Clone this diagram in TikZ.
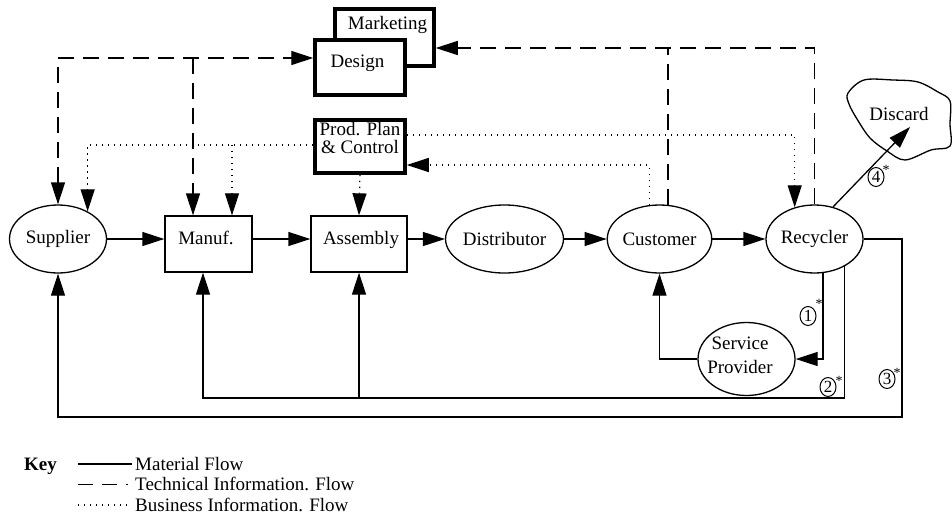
\documentclass[tikz,border=0pt]{standalone}
\usepackage{fontspec}
\setmainfont{Liberation Serif}
\usetikzlibrary{arrows.meta,shapes.geometric}

\begin{document}
\begin{tikzpicture}[x=1pt,y=-1pt,
  font=\fontsize{19}{19}\selectfont,
  >={Triangle[length=22pt,width=14pt]},
  flow/.style={line width=1.3pt},
  mat/.style={flow},
  tech/.style={flow, dash pattern=on 16pt off 9pt},
  biz/.style={line width=1.2pt, dash pattern=on 1.3pt off 4.7pt},
  ell/.style={ellipse, draw, line width=1.3pt, minimum width=97pt,
    minimum height=68pt, inner sep=0pt},
  box/.style={rectangle, draw, line width=1.3pt, minimum height=56pt, inner sep=0pt},
  heavybox/.style={rectangle, draw, line width=3.5pt, inner sep=0pt, fill=white},
  txt/.style={inner sep=0pt, anchor=base},
  num/.style={ellipse, draw, line width=1pt, minimum width=16pt, minimum height=19pt,
    inner sep=0pt, font=\fontsize{17}{17}\selectfont},
  star/.style={inner sep=0pt, font=\fontsize{14}{14}\selectfont},
]
\useasboundingbox (0,0) rectangle (952,522);

% ---- departments ----
\node[heavybox, minimum width=99pt, minimum height=57pt] (mkt) at (384.5,37.5) {};
\node[txt] (mktT) at (387.5,29) {Marketing};
\node[heavybox, minimum width=90pt, minimum height=55pt] (des) at (360,67.5) {};
\node[txt] (desT) at (357.5,67) {Design};
\node[heavybox, minimum width=90pt, minimum height=53pt] (ppc) at (360,146.5) {};
\node[txt] (ppcA) at (360,135) {Prod. Plan};
\node[txt] (ppcB) at (360,153) {\& Control};

% ---- supply chain row ----
\node[ell] (sup) at (58,239) {Supplier};
\node[box, minimum width=87pt] (man) at (208.5,244) {};
\node[txt] (manT) at (206,244) {Manuf.};
\node[box, minimum width=96pt] (ass) at (359,244) {};
\node[txt] (assT) at (361,244) {Assembly};
\node[ell] (dis) at (504.5,239) {Distributor};
\node[ell] (cus) at (659.5,239) {Customer};
\node[ell] (rec) at (814.5,239) {Recycler};
\node[ell, minimum height=73pt] (sp) at (746.5,359) {};
\node[txt] (spA) at (740,349) {Service};
\node[txt] (spB) at (740,373) {Provider};

% ---- discard ----
\draw[line width=1.3pt] plot[smooth cycle, tension=0.55] coordinates {
  (848,93) (864,80) (893,80) (918,82) (938,92) (950,101) (950,124)
  (950,146) (931,150) (905,160) (887,151) (870,138) (857,119) (849,104)};
\node[txt] (disT) at (899,120) {Discard};
\coordinate (distip) at (910,127);

% ---- helper levels ----
\coordinate (ytechA) at (0,58);
\coordinate (ytechB) at (0,48);
\coordinate (ybizA) at (0,145);
\coordinate (ybizB) at (0,135);
\coordinate (ybizC) at (0,165);
\coordinate (xmanT) at (193,0);
\coordinate (xmanB) at (232,0);
\coordinate (loopA) at (844,398);
\coordinate (loopB) at (902,417);

% ---- material flow ----
\draw[mat,->] (sup.east) -- (sup.east -| man.west);
\draw[mat,->] (man.east |- sup.east) -- (sup.east -| ass.west);
\draw[mat,->] (ass.east |- sup.east) -- (dis.west);
\draw[mat,->] (dis.east) -- (cus.west);
\draw[mat,->] (cus.east) -- (rec.west);
\draw[mat,->] (rec.60) -- (distip);
\draw[mat,->] (rec.-76) |- (sp.east);
\draw[mat,->] (sp.west) -| (cus.south);
\draw[mat,->] (rec.-42) |- (loopA) -| ([xshift=-5.5pt]man.south);
\draw[mat,->] (ass.south |- loopA) -- (ass.south);
\draw[mat,->] (rec.east) -| (loopB) -| (sup.south);

% ---- technical information flow ----
\draw[tech,<->] (sup.north) |- (des.west |- ytechA);
\draw[tech,->] (xmanT |- ytechA) -- (xmanT |- man.north);
\draw[tech,->] (rec.north) |- (mkt.east |- ytechB);
\draw[tech] (cus.76) -- (cus.76 |- ytechB);

% ---- business information flow ----
\draw[biz,->] (ppc.west |- ybizA) -| (sup.43);
\draw[biz,->] (xmanB |- ybizA) -- (xmanB |- man.north);
\draw[biz,->] (ppc.south) -- (ass.north);
\draw[biz,->] (ppc.east |- ybizB) -| (rec.122);
\draw[biz,->] (cus.107) |- (ppc.east |- ybizC);

% ---- route numbers ----
\node[num] (n1) at (808,316) {1};
\node[star] (s1) at (819,304) {*};
\node[num] (n2) at (828,387) {2};
\node[star] (s2) at (839,381) {*};
\node[num] (n3) at (887,379) {3};
\node[star] (s3) at (897,373) {*};
\node[num] (n4) at (876,177) {4};
\node[star] (s4) at (886,170) {*};

% ---- key ----
\node[txt, anchor=base west] (key) at (24,470) {\bfseries Key};
\coordinate (kA1) at (78,464);  \coordinate (kA2) at (132,464);
\coordinate (kB1) at (78,484.5); \coordinate (kB2) at (128,484.5);
\coordinate (kC1) at (78,505);  \coordinate (kC2) at (128,505);
\draw[mat] (kA1) -- (kA2);
\draw[flow, dash pattern=on 15pt off 9pt] (kB1) -- (kB2);
\draw[biz] (kC1) -- (kC2);
\node[txt, anchor=base west] (kAT) at (135,470) {Material Flow};
\node[txt, anchor=base west] (kBT) at (135,490.5) {Technical Information. Flow};
\node[txt, anchor=base west] (kCT) at (135,511) {Business Information. Flow};
\end{tikzpicture}
\end{document}
